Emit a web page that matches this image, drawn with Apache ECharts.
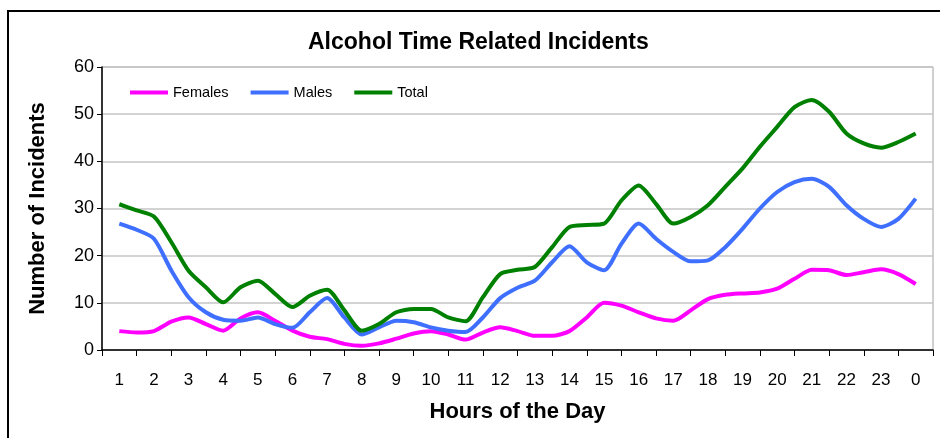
<!DOCTYPE html>
<html>
<head>
<meta charset="utf-8">
<script src="https://cdn.jsdelivr.net/npm/echarts@6/dist/echarts.min.js"></script>
<style>
  html, body { margin: 0; padding: 0; background: #fff; overflow: hidden; }
  #chart { position: absolute; left: 0; top: 0; width: 940px; height: 438px; }
  #frame { position: absolute; left: 7px; top: 10px; width: 1000px; height: 1000px;
           border: 2px solid #000; pointer-events: none; }
</style>
</head>
<body>
<div id="chart"></div>
<div id="frame"></div>
<script>
// Hour-of-day axis labels (midnight shown as 0 at the end)
const hourLabels = ['1','2','3','4','5','6','7','8','9','10','11','12',
                    '13','14','15','16','17','18','19','20','21','22','23','0'];

// Sample times in hours (half-hour steps, 24 = midnight)
const sampleHours = [1, 1.5, 2, 2.5, 3, 3.5, 4, 4.5, 5, 5.5, 6, 6.5, 7, 7.5, 8, 8.5,
                     9, 9.5, 10, 10.5, 11, 11.5, 12, 12.5, 13, 13.5, 14, 14.5, 15, 15.5,
                     16, 16.5, 17, 17.5, 18, 18.5, 19, 19.5, 20, 20.5, 21, 21.5, 22, 22.5,
                     23, 23.5, 24];

const females = [4.0, 3.7, 4.0, 6.0, 6.9, 5.5, 4.1, 6.7, 8.0, 6.2, 4.1, 2.8, 2.3, 1.3, 0.9, 1.4,
                 2.4, 3.5, 4.0, 3.3, 2.2, 3.7, 4.8, 4.0, 3.0, 3.0, 4.0, 6.9, 10.0, 9.4,
                 8.0, 6.7, 6.2, 8.4, 10.8, 11.7, 12.0, 12.2, 13.0, 15.1, 17.0, 16.9, 15.9, 16.5,
                 17.1, 16.1, 14.0];

const males = [26.8, 25.5, 23.6, 16.9, 11.2, 8.0, 6.4, 6.2, 6.9, 5.5, 4.7, 8.0, 11.0, 6.9, 3.3, 4.8,
               6.2, 5.9, 4.8, 4.1, 3.8, 6.9, 11.0, 13.2, 14.7, 18.6, 22.0, 18.6, 16.9, 22.5,
               26.8, 23.6, 20.8, 18.8, 19.0, 21.8, 25.7, 30.0, 33.5, 35.6, 36.3, 34.6, 30.7, 27.8,
               26.1, 27.8, 32.1];

const total = [30.9, 29.6, 28.3, 22.9, 16.8, 13.3, 10.1, 13.3, 14.7, 11.9, 9.1, 11.5, 12.8, 8.4, 4.1, 5.5,
               8.0, 8.7, 8.7, 6.9, 6.1, 11.2, 16.1, 17.0, 17.6, 21.8, 26.1, 26.5, 26.8, 31.7,
               34.9, 31.0, 26.8, 28.2, 30.7, 34.6, 38.5, 43.1, 47.3, 51.5, 53.0, 50.5, 45.9, 43.8,
               42.9, 44.1, 45.9];

const yTicks = { min: 0, max: 60, step: 10 };

const FONT = '"Liberation Sans", Arial, sans-serif';

function pairs(values) {
  return sampleHours.map((h, i) => [h, values[i]]);
}

const chart = echarts.init(document.getElementById('chart'), null, { renderer: 'canvas' });

chart.setOption({
  animation: false,
  backgroundColor: '#fff',
  textStyle: { fontFamily: FONT },
  title: {
    text: 'Alcohol Time Related Incidents',
    left: 308,
    top: 31,
    padding: 0,
    textStyle: { fontFamily: FONT, fontSize: 23, fontWeight: 'bold', color: '#000' }
  },
  legend: {
    left: 130,
    top: 85,
    padding: 0,
    icon: 'rect',
    itemWidth: 38,
    itemHeight: 4,
    itemGap: 22,
    textStyle: { fontFamily: FONT, fontSize: 14.5, color: '#000' },
    data: ['Females', 'Males', 'Total']
  },
  grid: {
    left: 102, right: 7, top: 67, bottom: 88,
    show: true, borderColor: '#a0a0a0', borderWidth: 1, backgroundColor: 'transparent'
  },
  xAxis: [
    {
      type: 'category',
      data: hourLabels,
      boundaryGap: true,
      name: 'Hours of the Day',
      nameLocation: 'middle',
      nameGap: 51,
      nameTextStyle: { fontFamily: FONT, fontSize: 22, fontWeight: 'bold', color: '#000' },
      axisLine: { show: true, lineStyle: { color: '#000', width: 1.5 } },
      axisTick: { show: true, alignWithLabel: false, length: 6, lineStyle: { color: '#000' } },
      axisLabel: { fontFamily: FONT, fontSize: 17, color: '#000', margin: 22, interval: 0 },
      splitLine: { show: false }
    },
    {
      type: 'value',
      min: 0.5,
      max: 24.5,
      show: false
    }
  ],
  yAxis: {
    type: 'value',
    min: yTicks.min,
    max: yTicks.max,
    interval: yTicks.step,
    name: 'Number of Incidents',
    nameLocation: 'middle',
    nameRotate: 90,
    nameGap: 53,
    nameTextStyle: { fontFamily: FONT, fontSize: 22, fontWeight: 'bold', color: '#000' },
    axisLine: { show: true, lineStyle: { color: '#000', width: 1.5 } },
    axisTick: { show: true, inside: false, length: 5, lineStyle: { color: '#000' } },
    axisLabel: { fontFamily: FONT, fontSize: 18, color: '#000', margin: 8 },
    splitLine: { show: true, lineStyle: { color: '#c4c4c4', width: 1.5 } }
  },
  series: [
    {
      name: 'Females', type: 'line', xAxisIndex: 1, data: pairs(females),
      smooth: 0.25, showSymbol: false, symbol: 'none',
      lineStyle: { color: '#ff00ff', width: 4 }, itemStyle: { color: '#ff00ff' }
    },
    {
      name: 'Males', type: 'line', xAxisIndex: 1, data: pairs(males),
      smooth: 0.25, showSymbol: false, symbol: 'none',
      lineStyle: { color: '#3f6fff', width: 4 }, itemStyle: { color: '#3f6fff' }
    },
    {
      name: 'Total', type: 'line', xAxisIndex: 1, data: pairs(total),
      smooth: 0.25, showSymbol: false, symbol: 'none',
      lineStyle: { color: '#008000', width: 4 }, itemStyle: { color: '#008000' }
    }
  ]
});
</script>
</body>
</html>
